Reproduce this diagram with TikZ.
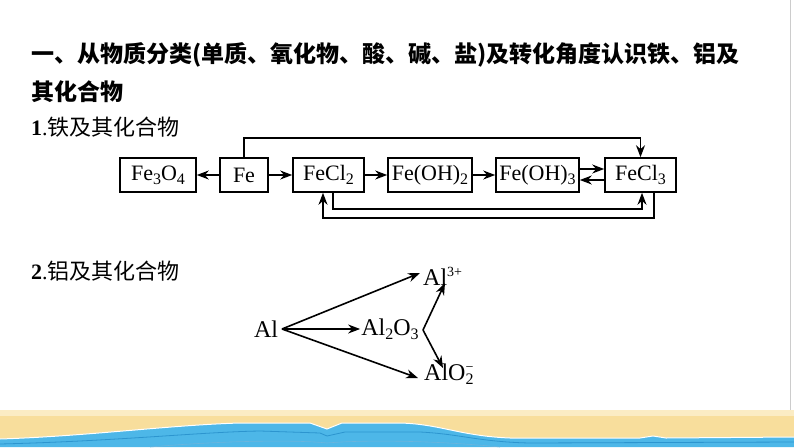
\documentclass[tikz,border=0pt]{standalone}
\usepackage{fontspec}
\setmainfont{Liberation Serif}
\newfontfamily\cjk{Noto Sans CJK SC}
\usetikzlibrary{arrows.meta}
\newcommand\chsub[1]{\raisebox{-0.17em}{\fontsize{16}{16}\selectfont #1}}
\newcommand\chsup[1]{\raisebox{0.38em}{\fontsize{14}{14}\selectfont #1}}
\newcommand\chsubsup[2]{\raisebox{-4.5pt}{\vbox{\offinterlineskip\hbox{\fontsize{14}{14}\selectfont #2}\kern2pt\hbox{\fontsize{16}{16}\selectfont #1}}}}
\definecolor{sand}{HTML}{F8DE9C}
\definecolor{sandlight}{HTML}{FBECC4}
\definecolor{sea}{HTML}{4DB7E8}
\definecolor{seadark}{HTML}{2C95CF}
\tikzset{
  chembox/.style={draw, line width=1.6pt, minimum height=34pt, inner sep=0pt,
    font=\fontsize{22}{22}\selectfont},
  chem/.style={inner sep=1pt, font=\fontsize{24}{24}\selectfont},
  arr/.style={line width=1.6pt, -{Stealth[length=12pt,width=9pt]}},
  heading/.style={anchor=west, inner sep=0pt, font=\cjk\bfseries\fontsize{23}{23}\selectfont},
  subhead/.style={anchor=west, inner sep=0pt, font=\fontsize{22}{22}\selectfont}
}
\begin{document}
\begin{tikzpicture}[x=1pt,y=-1pt]
\useasboundingbox (0,0) rectangle (794,447);
\fill[white] (0,0) rectangle (794,447);
% decoration at bottom
\draw[gray!40, line width=0.8pt] (790,0) -- (790,412);
\fill[sandlight] (0,410) rectangle (794,447);
\fill[sand] (0,416) rectangle (794,447);
\fill[sea] (0,439) .. controls (90,436) and (170,425) .. (240,423)
  -- (310,423) -- (327,429) -- (342,423) -- (400,423)
  .. controls (440,424) and (460,436) .. (510,438)
  -- (640,438) -- (653,436) -- (666,438) -- (794,437) -- (794,447) -- (0,447) -- cycle;
\draw[white, line width=1pt] (0,439) .. controls (90,436) and (170,425) .. (240,423)
  -- (310,423) -- (327,429) -- (342,423) -- (400,423)
  .. controls (440,424) and (460,436) .. (510,438)
  -- (640,438) -- (653,436) -- (666,438) -- (794,437);
\draw[seadark, line width=0.8pt] (0,444) .. controls (120,441) and (200,432) .. (260,431)
  -- (320,433) -- (327,436) -- (345,432) -- (420,432)
  .. controls (460,434) and (480,442) .. (530,443) -- (794,442);
\draw[seadark!70, line width=0.6pt] (150,447) .. controls (230,440) and (300,440) .. (327,443)
  .. controls (360,440) and (430,440) .. (500,447);
% headings
\node[heading] (h1) at (31,55) {一、从物质分类(单质、氧化物、酸、碱、盐)及转化角度认识铁、铝及};
\node[heading] (h2) at (31,92) {其化合物};
\node[subhead] (s1) at (31,127) {\textbf{1}.\cjk 铁及其化合物};
\node[subhead] (s2) at (31,271) {\textbf{2}.\cjk 铝及其化合物};
% iron
\node[chembox, minimum width=76pt] (fe3o4) at (158,175) {Fe\chsub{3}O\chsub{4}};
\node[chembox, minimum width=48pt] (fe) at (244,175) {Fe};
\node[chembox, minimum width=71pt] (fecl2) at (328.5,175) {FeCl\chsub{2}};
\node[chembox, minimum width=84pt] (feoh2) at (430,175) {Fe(OH)\chsub{2}};
\node[chembox, minimum width=83pt] (feoh3) at (537.5,175) {Fe(OH)\chsub{3}};
\node[chembox, minimum width=71pt] (fecl3) at (640.5,175) {FeCl\chsub{3}};
\draw[arr] (fe) -- (fe3o4);
\draw[arr] (fe) -- (fecl2);
\draw[arr] (fecl2) -- (feoh2);
\draw[arr] (feoh2) -- (feoh3);
\draw[arr] ([yshift=6pt]feoh3.east) -- ([yshift=6pt]fecl3.west);
\draw[arr] ([yshift=-5pt]fecl3.west) -- ([yshift=-5pt]feoh3.east);
\draw[arr] (fe.north) -- ++(0,-19) -| (fecl3.north);
\draw[arr] ([xshift=4.5pt]fecl2.south) -- ++(0,16) -| ([xshift=1.5pt]fecl3.south);
\draw[arr] ([xshift=13.5pt]fecl3.south) -- ++(0,25) -| ([xshift=-5.5pt]fecl2.south);
% aluminium
\node[chem] (al) at (266,329) {Al};
\node[chem] (al2o3) at (390,329) {Al\chsub{2}O\chsub{3}};
\node[chem, anchor=west] (al3) at (422,276) {Al\chsup{3+}};
\node[chem, anchor=west] (alo2) at (423,374) {AlO\chsubsup{2}{−}};
\coordinate (alr) at (282,329);
\coordinate (vtip) at (423,330);
\coordinate (toal3) at (420,273);
\coordinate (toalo2) at (418,378);
\coordinate (vup) at (445,283);
\coordinate (vdown) at (443,368);
\draw[arr] (alr) -- (toal3);
\draw[arr] (alr) -- (al2o3.west);
\draw[arr] (alr) -- (toalo2);
\draw[arr] (vtip) -- (vup);
\draw[arr] (vtip) -- (vdown);
\end{tikzpicture}
\end{document}
